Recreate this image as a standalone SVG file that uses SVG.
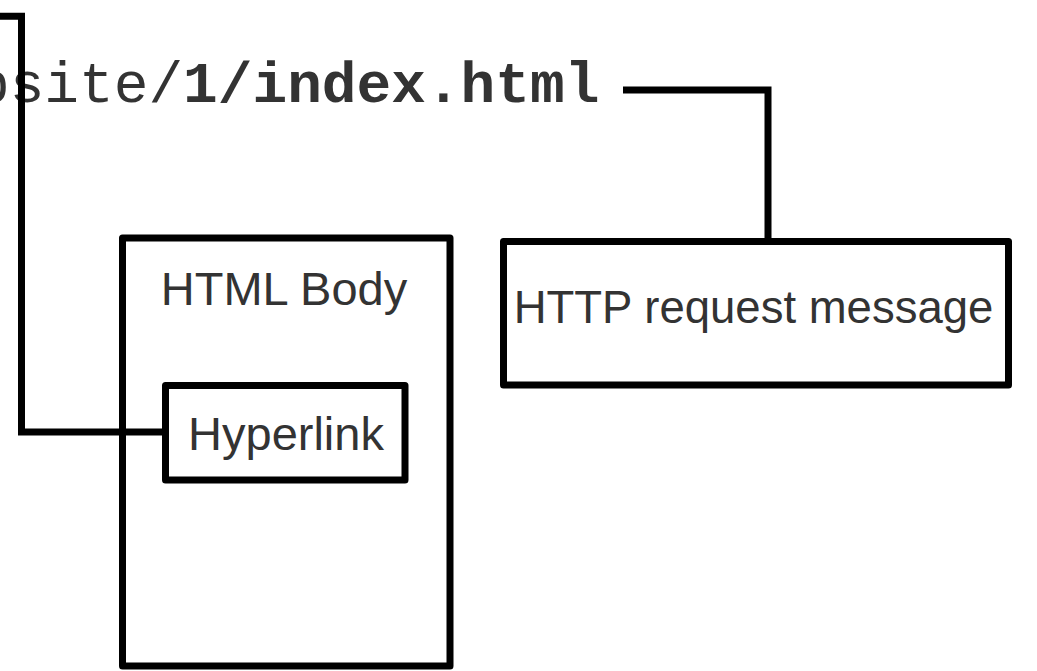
<svg xmlns="http://www.w3.org/2000/svg" width="1037" height="671" viewBox="0 0 1037 671">
  <style>
    .box { fill: #ffffff; stroke: #000000; stroke-width: 7; stroke-linejoin: round; }
    .label { font-family: "Liberation Sans", Arial, sans-serif; font-size: 47px; fill: #333333; }
    .url { font-family: "Liberation Mono", "Courier New", monospace; font-size: 57.8px; fill: #333333; }
    .url .strong { font-weight: bold; }
    .wire { fill: none; stroke: #000000; stroke-width: 7; stroke-linejoin: miter; }
  </style>
  <rect width="1037" height="671" fill="#ffffff"/>

  <!-- address of the linked page -->
  <g id="url">
    <text class="url" x="-25" y="102">bsite/<tspan class="strong">1/index.html</tspan></text>
  </g>

  <g id="html-body">
    <rect class="box" x="122.5" y="238" width="327.5" height="428"/>
    <text class="label" x="284" y="305" text-anchor="middle">HTML Body</text>
  </g>

  <g id="hyperlink">
    <rect class="box" x="165.5" y="385.5" width="239.5" height="94.5"/>
    <text class="label" x="286" y="450" text-anchor="middle">Hyperlink</text>
  </g>

  <g id="http-request">
    <rect class="box" x="503.5" y="241.5" width="505" height="143.5"/>
    <text class="label" x="753.5" y="323" text-anchor="middle" style="font-size:45.5px">HTTP request message</text>
  </g>

  <g id="connectors">
    <polyline class="wire" points="0,16.3 21.5,16.3 21.5,432 165.5,432"/>
    <polyline class="wire" points="623,90 768,90 768,241.5"/>
  </g>
</svg>
